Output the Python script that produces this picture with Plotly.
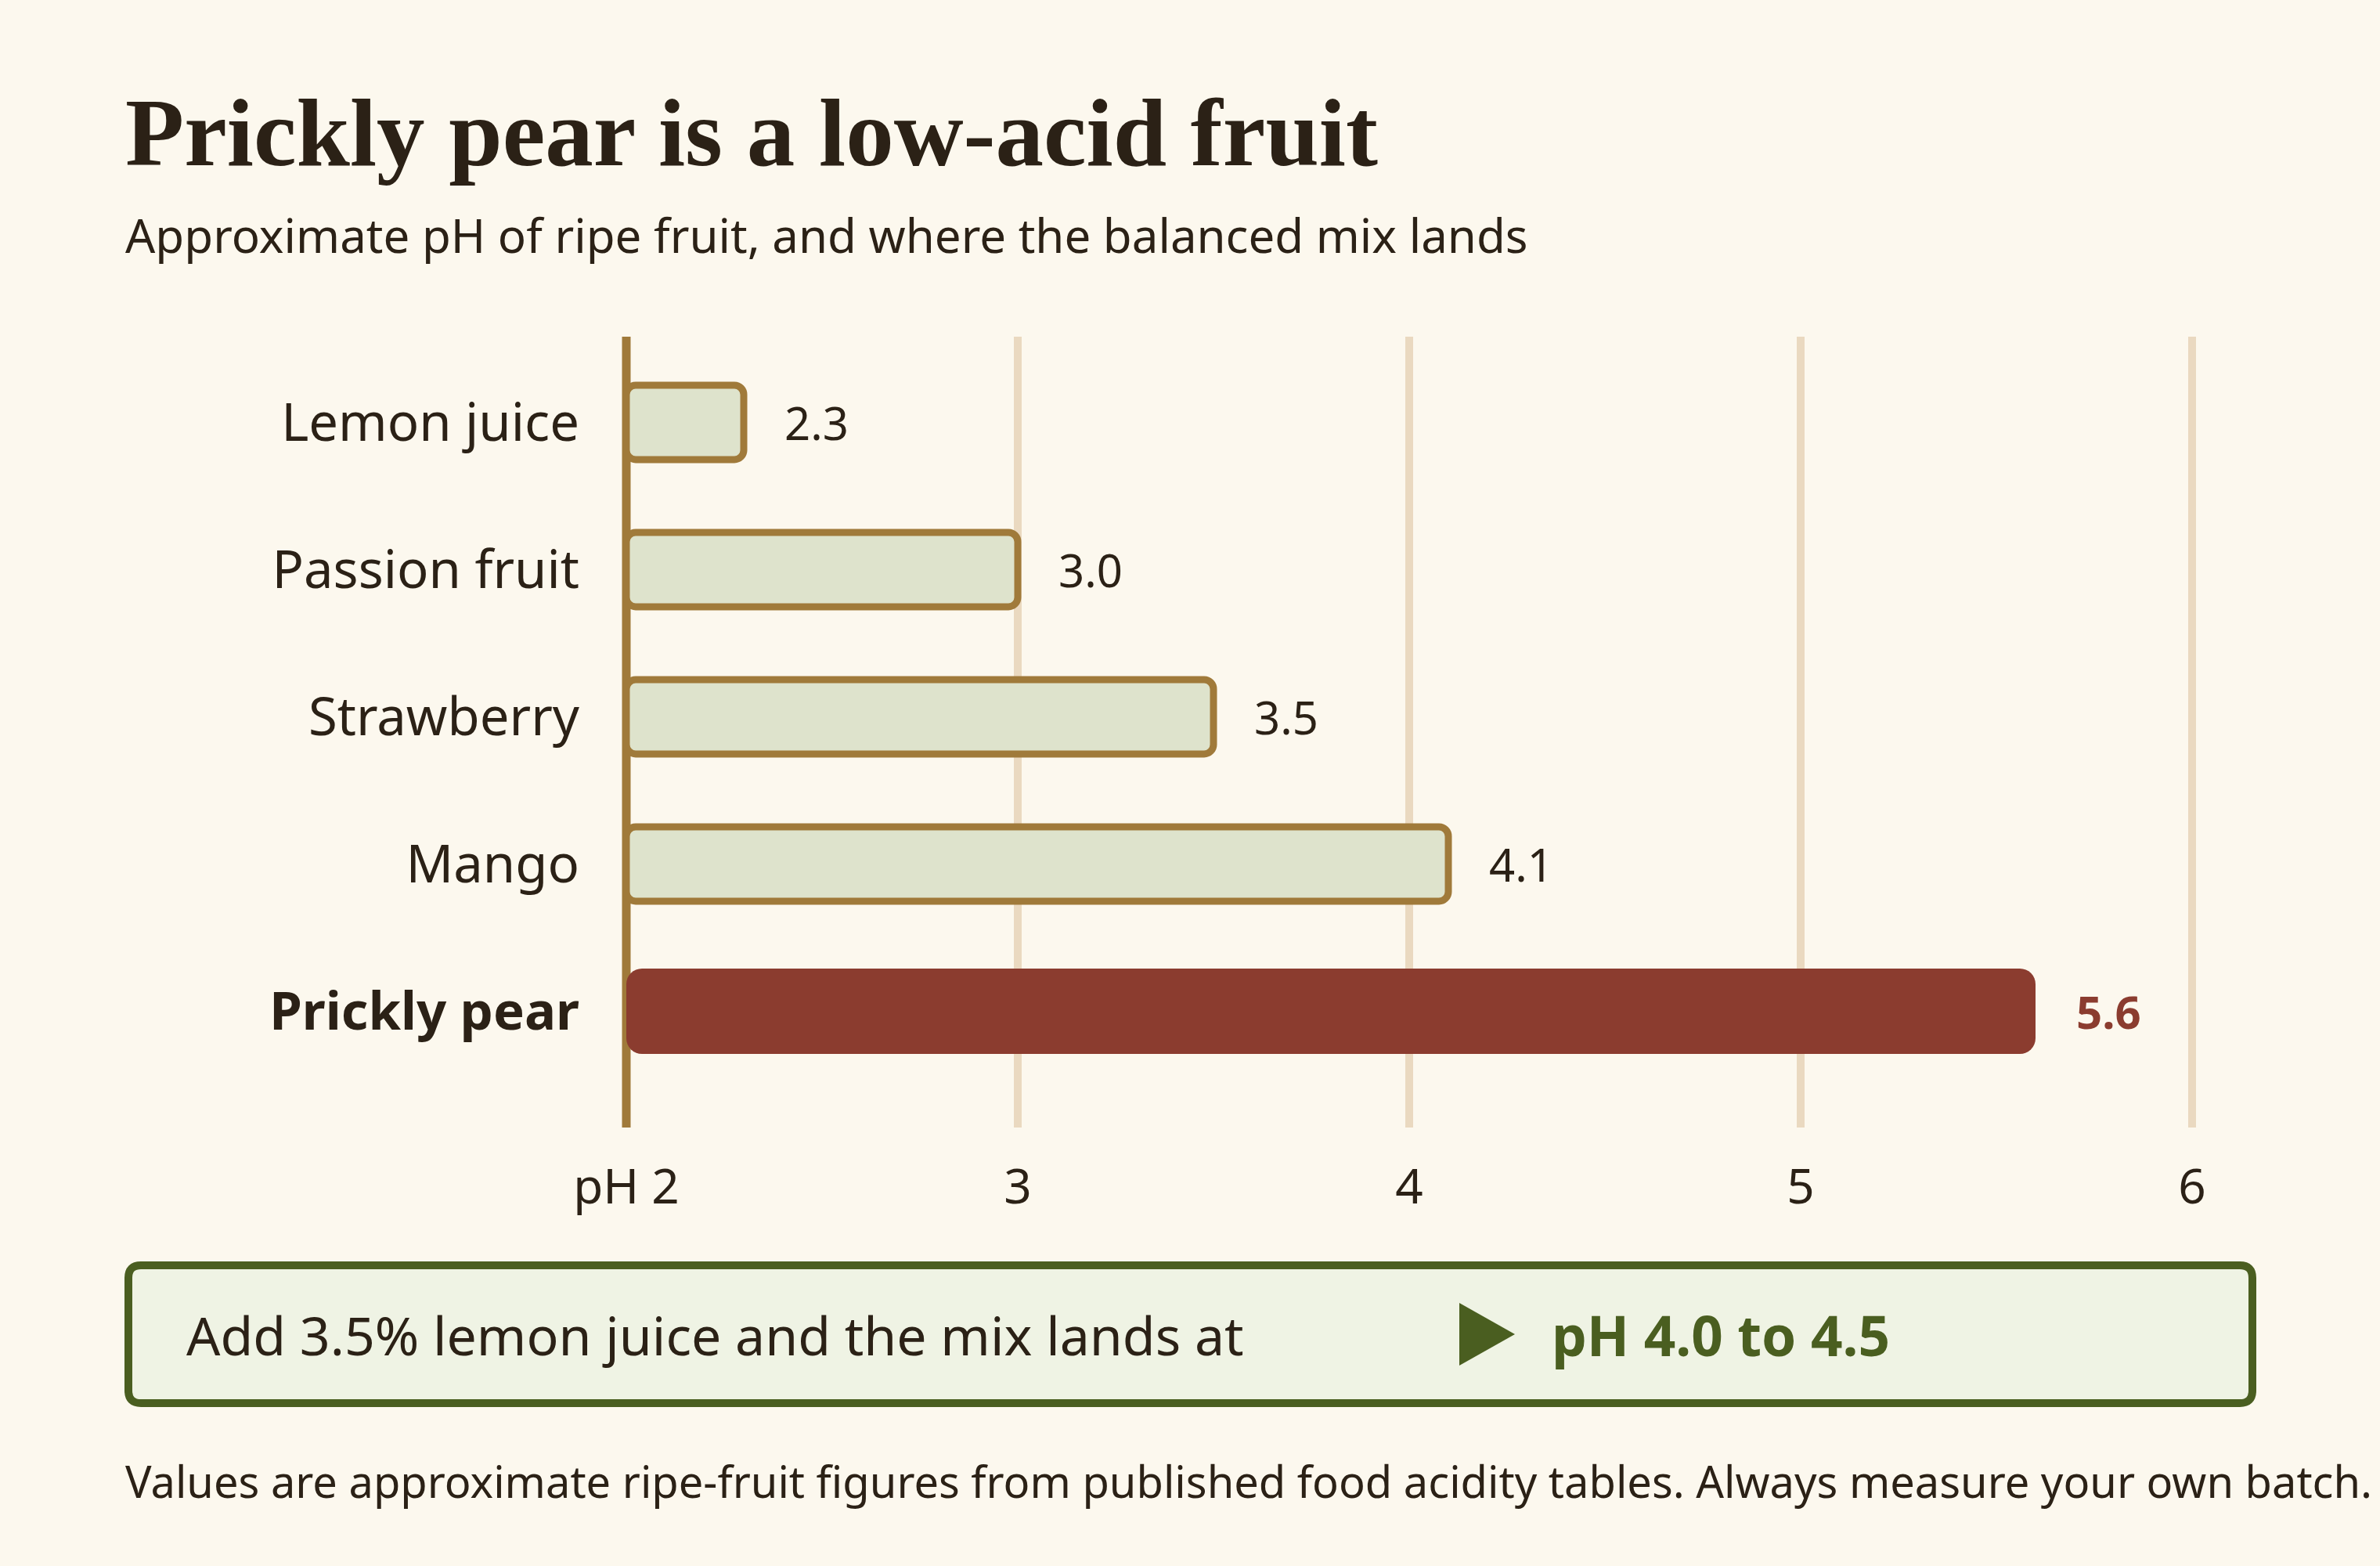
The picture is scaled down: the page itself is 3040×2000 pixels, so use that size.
import plotly.graph_objects as go

# ---- data ----
fruits = ["Lemon juice", "Passion fruit", "Strawberry", "Mango", "Prickly pear"]
ph_values = [2.3, 3.0, 3.5, 4.1, 5.6]
highlight = "Prickly pear"
tick_values = [2, 3, 4, 5, 6]
tick_labels = ["pH 2", "3", "4", "5", "6"]
PH_MIN = 2
PH_MAX = 6

title_text = "Prickly pear is a low-acid fruit"
subtitle_text = "Approximate pH of ripe fruit, and where the balanced mix lands"
callout_text = "Add 3.5% lemon juice and the mix lands at"
callout_value = "pH 4.0 to 4.5"
footnote_text = ("Values are approximate ripe-fruit figures from published food acidity "
                 "tables. Always measure your own batch.")

# ---- style ----
W, H = 3040, 2000
BG = "#fcf8ee"
INK = "#2b2116"
GOLD = "#a07a3a"
SAGE = "#dee3cc"
RED = "#8b3c2f"
GRID = "#ead9c0"
GREEN = "#4a5e20"
BOXFILL = "#eff3e4"
SANS = "Noto Sans, Open Sans, sans-serif"
SERIF = "Liberation Serif, DejaVu Serif, serif"

X_ORIGIN_PX, X_UNIT_PX = 800, 500   # pixel position of pH 2, pixels per pH unit
PAD_L, PAD_R = 0.02, 0.02


def px(x):
    return x / W


def py(y):
    return 1 - y / H


fig = go.Figure()

normal = [f != highlight for f in fruits]
fig.add_trace(go.Bar(
    y=[f for f, n in zip(fruits, normal) if n],
    x=[v - PH_MIN for v, n in zip(ph_values, normal) if n],
    base=PH_MIN,
    orientation="h",
    width=0.505,
    marker=dict(color=SAGE, line=dict(color=GOLD, width=9), cornerradius=12),
    hoverinfo="skip",
))
fig.add_trace(go.Bar(
    y=[f for f, n in zip(fruits, normal) if not n],
    x=[v - PH_MIN for v, n in zip(ph_values, normal) if not n],
    base=PH_MIN,
    orientation="h",
    width=0.58,
    marker=dict(color=RED, line=dict(width=0), cornerradius=20),
    hoverinfo="skip",
))

annotations = []
for f, v in zip(fruits, ph_values):
    hl = f == highlight
    annotations.append(dict(
        x=v, y=f, xref="x", yref="y", xanchor="left", yanchor="middle",
        xshift=50, showarrow=False,
        text=(f"<b>{v:.1f}</b>" if hl else f"{v:.1f}"),
        font=dict(family=SANS, size=58, color=RED if hl else INK),
    ))

# title / subtitle / callout / footnote
annotations += [
    dict(x=px(158), y=py(170), xref="paper", yref="paper", xanchor="left", yanchor="middle",
         showarrow=False, text=f"<b>{title_text}</b>",
         font=dict(family=SERIF, size=123, color=INK)),
    dict(x=px(158), y=py(300), xref="paper", yref="paper", xanchor="left", yanchor="middle",
         showarrow=False, text=subtitle_text,
         font=dict(family=SANS, size=60, color=INK)),
    dict(x=px(236), y=py(1704), xref="paper", yref="paper", xanchor="left", yanchor="middle",
         showarrow=False, text=callout_text,
         font=dict(family=SANS, size=68, color=INK)),
    dict(x=px(1980), y=py(1704), xref="paper", yref="paper", xanchor="left", yanchor="middle",
         showarrow=False, text=f"<b>{callout_value}</b>",
         font=dict(family=SANS, size=71, color=GREEN)),
    dict(x=px(158), y=py(1891), xref="paper", yref="paper", xanchor="left", yanchor="middle",
         showarrow=False, text=footnote_text,
         font=dict(family=SANS, size=56, color=INK)),
]


def rounded_rect(x0, y0, x1, y1, r):
    pts = [
        f"M {px(x0 + r)} {py(y0)}",
        f"L {px(x1 - r)} {py(y0)}",
        f"Q {px(x1)} {py(y0)} {px(x1)} {py(y0 + r)}",
        f"L {px(x1)} {py(y1 - r)}",
        f"Q {px(x1)} {py(y1)} {px(x1 - r)} {py(y1)}",
        f"L {px(x0 + r)} {py(y1)}",
        f"Q {px(x0)} {py(y1)} {px(x0)} {py(y1 - r)}",
        f"L {px(x0)} {py(y0 + r)}",
        f"Q {px(x0)} {py(y0)} {px(x0 + r)} {py(y0)}",
        "Z",
    ]
    return " ".join(pts)


shapes = []
# vertical grid lines at the pH ticks (except the baseline)
for t in tick_values:
    if t != PH_MIN:
        shapes.append(dict(type="line", xref="x", yref="y domain", x0=t, x1=t, y0=0, y1=1,
                           layer="below", line=dict(color=GRID, width=10)))
# axis baseline at pH 2
shapes.append(dict(type="line", xref="x", yref="y domain", x0=PH_MIN, x1=PH_MIN, y0=0, y1=1,
                   layer="below", line=dict(color=GOLD, width=11)))
# callout box and arrow
shapes += [
    dict(type="path", xref="paper", yref="paper", layer="below",
         path=rounded_rect(164, 1616, 2877, 1792, 16),
         fillcolor=BOXFILL, line=dict(color=GREEN, width=10)),
    dict(type="path", xref="paper", yref="paper", layer="above",
         path=f"M {px(1864)} {py(1664)} L {px(1935)} {py(1704)} L {px(1864)} {py(1744)} Z",
         fillcolor=GREEN, line=dict(width=0)),
]

tick_text_y = [f"<b>{f}</b>" if f == highlight else f for f in fruits]

x_left_px = X_ORIGIN_PX - PAD_L * X_UNIT_PX
x_right_px = X_ORIGIN_PX + (PH_MAX + PAD_R - PH_MIN) * X_UNIT_PX

fig.update_layout(
    width=W, height=H,
    paper_bgcolor=BG, plot_bgcolor=BG,
    margin=dict(l=0, r=0, t=0, b=0, autoexpand=False),
    showlegend=False,
    barmode="overlay",
    annotations=annotations,
    shapes=shapes,
    xaxis=dict(
        domain=[px(x_left_px), px(x_right_px)],
        range=[PH_MIN - PAD_L, PH_MAX + PAD_R],
        tickvals=tick_values, ticktext=tick_labels,
        showgrid=False,
        zeroline=False, showline=False, ticks="",
        tickfont=dict(family=SANS, size=62, color=INK),
        ticklabelstandoff=34,
        automargin=False, fixedrange=True,
    ),
    yaxis=dict(
        domain=[py(1440), py(430)],
        type="category",
        categoryorder="array", categoryarray=fruits,
        range=[4.79, -0.582],
        tickvals=fruits, ticktext=tick_text_y,
        showgrid=False, zeroline=False, showline=False,
        ticks="",
        tickfont=dict(family=SANS, size=67, color=INK),
        ticklabelstandoff=49,
        automargin=False, fixedrange=True,
    ),
)

fig.write_html(
    "out.html",
    config={"displayModeBar": False},
    post_script="document.body.style.margin='0';document.body.style.overflow='hidden';",
)
